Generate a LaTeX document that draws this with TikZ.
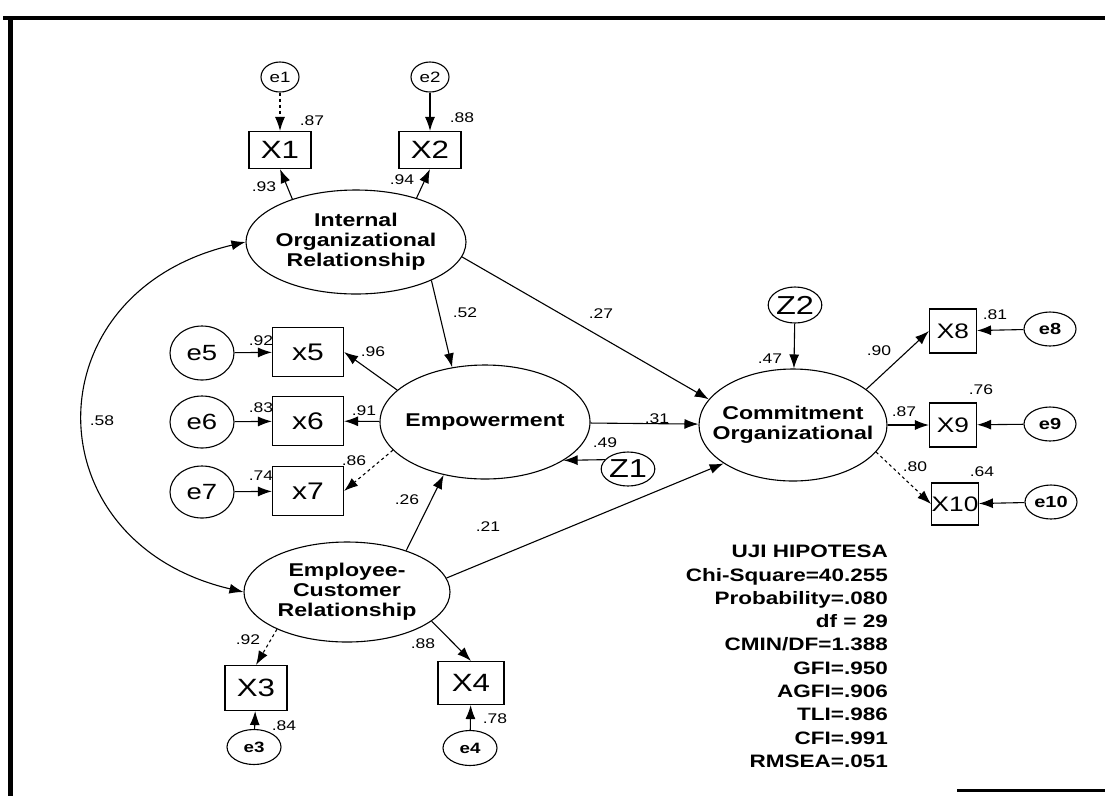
\documentclass[tikz,border=0pt]{standalone}
\usepackage{fontspec}
\setmainfont{Liberation Sans}[FakeStretch=1.25]
\usetikzlibrary{arrows.meta}
\usetikzlibrary{shapes.geometric}

\begin{document}
\begin{tikzpicture}[x=1pt,y=-1pt]
        \tikzset{latent/.style = {shape=ellipse,draw,line width=1.1pt,inner sep=0pt,minimum width=220pt,minimum height=104pt}}
        \tikzset{ltext/.style = {inner sep=0pt,align=center,font=\fontsize{18.5}{20}\selectfont\bfseries}}
        \tikzset{err/.style = {shape=ellipse,draw,line width=1.1pt,inner sep=0pt,minimum width=38pt,minimum height=30pt,font=\fontsize{15}{15}\selectfont}}
        \tikzset{obs/.style = {shape=rectangle,draw,line width=1.1pt,inner sep=0pt,minimum width=62pt,minimum height=37pt,font=\fontsize{25}{25}\selectfont}}
        \tikzset{num/.style = {inner sep=0pt,font=\fontsize{14}{14}\selectfont}}
        \tikzset{stat/.style = {inner sep=0pt,align=right,font=\fontsize{18}{23.3}\selectfont\bfseries}}
        \tikzset{edge/.style = {-{Latex[length=14pt,width=10pt]},line width=1.1pt}}
        \useasboundingbox (0,0) rectangle (1105,796);

        % frame
        \draw[line width=4pt] (3,18) -- (1105,18);
        \draw[line width=5pt] (10.5,16) -- (10.5,796);
        \draw[line width=3pt] (957,790) -- (1105,790);

        % latent variables
        \node[latent,label={[ltext]center:Internal\\Organizational\\Relationship}] (IOR) at (356,242) {};
        \node[latent,minimum width=210pt,minimum height=114pt,label={[ltext]center:Empowerment}] (Emp) at (485,422) {};
        \node[latent,minimum width=188pt,minimum height=112pt,label={[ltext]center:Commitment\\Organizational}] (CO) at (793,425) {};
        \node[latent,minimum width=206pt,minimum height=100pt,label={[ltext]center:Employee-\\Customer\\Relationship}] (ECR) at (347,592) {};

        % indicators
        \node[obs] (X1) at (280,150) {X1};
        \node[obs] (X2) at (430,150) {X2};
        \node[obs,minimum height=45pt] (X3) at (256,688) {X3};
        \node[obs,minimum width=66pt,minimum height=43pt] (X4) at (471,683) {X4};
        \node[obs,minimum width=71pt,minimum height=49pt,font=\fontsize{24}{24}\selectfont] (x5) at (308,352) {x5};
        \node[obs,minimum width=71pt,minimum height=49pt,font=\fontsize{24}{24}\selectfont] (x6) at (308,421) {x6};
        \node[obs,minimum width=71pt,minimum height=49pt,font=\fontsize{24}{24}\selectfont] (x7) at (308,491) {x7};
        \node[obs,minimum width=47pt,minimum height=44pt,font=\fontsize{21}{21}\selectfont] (X8) at (953,331) {X8};
        \node[obs,minimum width=47pt,minimum height=44pt,font=\fontsize{21}{21}\selectfont] (X9) at (953,425) {X9};
        \node[obs,minimum width=45pt,minimum height=42pt,font=\fontsize{21}{21}\selectfont] (X10) at (955,504) {X10};

        % errors and disturbances
        \node[err] (e1) at (280,77) {e1};
        \node[err] (e2) at (430,77) {e2};
        \node[err,minimum width=54pt,minimum height=35pt,font=\fontsize{15}{15}\selectfont\bfseries] (e3) at (254,747) {e3};
        \node[err,minimum width=54pt,minimum height=35pt,font=\fontsize{15}{15}\selectfont\bfseries] (e4) at (470,748) {e4};
        \node[err,minimum width=64pt,minimum height=54pt,font=\fontsize{22}{22}\selectfont] (e5) at (202,353) {e5};
        \node[err,minimum width=64pt,minimum height=52pt,font=\fontsize{22}{22}\selectfont] (e6) at (202,422) {e6};
        \node[err,minimum width=64pt,minimum height=52pt,font=\fontsize{22}{22}\selectfont] (e7) at (202,492) {e7};
        \node[err,minimum width=52pt,minimum height=34pt,font=\fontsize{16}{16}\selectfont\bfseries] (e8) at (1050,329) {e8};
        \node[err,minimum width=52pt,minimum height=34pt,font=\fontsize{16}{16}\selectfont\bfseries] (e9) at (1050,424) {e9};
        \node[err,minimum width=52pt,minimum height=34pt,font=\fontsize{16}{16}\selectfont\bfseries] (e10) at (1051,502) {e10};
        \node[err,minimum width=52pt,minimum height=34pt,font=\fontsize{26}{26}\selectfont] (Z1) at (628,469) {Z1};
        \node[err,minimum width=50pt,minimum height=36pt,font=\fontsize{26}{26}\selectfont] (Z2) at (795,305) {Z2};

        % paths
        \draw[edge,dashed] (e1) -- (X1);
        \draw[edge] (e2) -- (X2);
        \draw[edge] (e3) -- (X3);
        \draw[edge] (e4) -- (X4);
        \draw[edge] (e5) -- (x5);
        \draw[edge] (e6) -- (x6);
        \draw[edge] (e7) -- (x7);
        \draw[edge] (e8) -- (X8);
        \draw[edge] (e9) -- (X9);
        \draw[edge] (e10) -- (X10);
        \draw[edge] (IOR.146) -- (X1.south);
        \draw[edge] (IOR.36) -- (X2.south);
        \draw[edge,dashed] (ECR.208) -- (X3.north);
        \draw[edge] (ECR.-19) -- (X4.north);
        \draw[edge] (Emp.160) -- (x5.east);
        \draw[edge] (Emp) -- (x6);
        \draw[edge,dashed] (Emp.197) -- (x7.east);
        \draw[edge] (CO.26) -- (X8.west);
        \draw[edge] (CO) -- (X9);
        \draw[edge,dashed] (CO.-18) -- (X10.west);
        \draw[edge] (IOR.-27) -- (Emp.121);
        \draw[edge] (IOR.-8) -- (CO.163);
        \draw[edge] (ECR.35) -- (Emp.232);
        \draw[edge] (ECR.8) -- (CO.209);
        \draw[edge] (Emp) -- (CO);
        \draw[edge] (Z1.158) -- (Emp.-26);
        \draw[edge] (Z2) -- (CO);
        \draw[{Latex[length=14pt,width=10pt]}-{Latex[length=14pt,width=10pt]},line width=1.1pt] (IOR.west) .. controls +(-215,50) and +(-213,-50) .. (ECR.west);

        % estimates
        \node[num] (rX1) at (312,121) {.87};
        \node[num] (rX2) at (462,118) {.88};
        \node[num] (pX1) at (264,187) {.93};
        \node[num] (pX2) at (402,180) {.94};
        \node[num] (pIE) at (465,313) {.52};
        \node[num] (pIC) at (601,314) {.27};
        \node[num] (cov) at (102,421) {.58};
        \node[num] (rx5) at (261,341) {.92};
        \node[num] (rx6) at (261,408) {.83};
        \node[num] (rx7) at (261,476) {.74};
        \node[num] (px5) at (373,352) {.96};
        \node[num] (px6) at (364,411) {.91};
        \node[num] (px7) at (354,461) {.86};
        \node[num] (pEE) at (407,500) {.26};
        \node[num] (pEC) at (488,527) {.21};
        \node[num] (pMC) at (657,419) {.31};
        \node[num] (rEmp) at (605,443) {.49};
        \node[num] (rCO) at (770,359) {.47};
        \node[num] (pX8) at (879,351) {.90};
        \node[num] (pX9) at (904,412) {.87};
        \node[num] (pX10) at (915,467) {.80};
        \node[num] (rX8) at (995,315) {.81};
        \node[num] (rX9) at (981,390) {.76};
        \node[num] (rX10) at (982,472) {.64};
        \node[num] (pX3) at (248,640) {.92};
        \node[num] (pX4) at (423,644) {.88};
        \node[num] (rX3) at (284,726) {.84};
        \node[num] (rX4) at (495,719) {.78};

        % fit
        \node[stat,anchor=north east] (fit) at (888,545) {UJI HIPOTESA\\Chi-Square=40.255\\Probability=.080\\df = 29\\CMIN/DF=1.388\\GFI=.950\\AGFI=.906\\TLI=.986\\CFI=.991\\RMSEA=.051};
\end{tikzpicture}
\end{document}
